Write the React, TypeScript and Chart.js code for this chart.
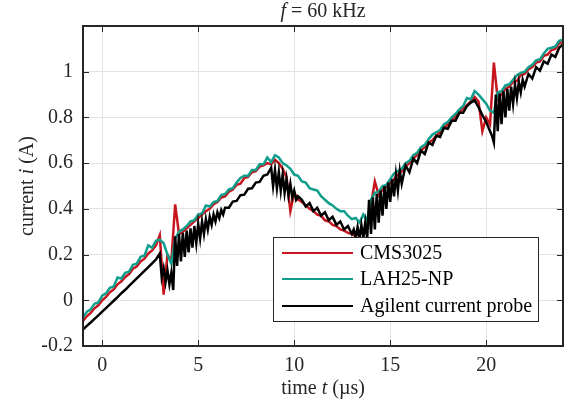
import React, { useEffect, useRef } from "react";
import Chart from "chart.js/auto";

// time axis (µs) for the two Hall-sensor traces
const timeUs = [
  -1.0, -0.8, -0.6, -0.4, -0.2, 0.0, 0.2, 0.4, 0.6, 0.8,
  1.0, 1.2, 1.4, 1.6, 1.8, 2.0, 2.2, 2.4, 2.6, 2.8,
  3.0, 3.2, 3.4, 3.6, 3.8, 4.0, 4.2, 4.4, 4.6, 4.8,
  5.0, 5.2, 5.4, 5.6, 5.8, 6.0, 6.2, 6.4, 6.6, 6.8,
  7.0, 7.2, 7.4, 7.6, 7.8, 8.0, 8.2, 8.4, 8.6, 8.8,
  9.0, 9.2, 9.4, 9.6, 9.8, 10.0, 10.2, 10.4, 10.6, 10.8,
  11.0, 11.2, 11.4, 11.6, 11.8, 12.0, 12.2, 12.4, 12.6, 12.8,
  13.0, 13.2, 13.4, 13.6, 13.8, 14.0, 14.2, 14.4, 14.6, 14.8,
  15.0, 15.2, 15.4, 15.6, 15.8, 16.0, 16.2, 16.4, 16.6, 16.8,
  17.0, 17.2, 17.4, 17.6, 17.8, 18.0, 18.2, 18.4, 18.6, 18.8,
  19.0, 19.2, 19.4, 19.6, 19.8, 20.0, 20.2, 20.4, 20.6, 20.8,
  21.0, 21.2, 21.4, 21.6, 21.8, 22.0, 22.2, 22.4, 22.6, 22.8,
  23.0, 23.2, 23.4, 23.6, 23.8, 24.0,
];

// CMS3025 current (A)
const cms3025 = [
  -0.09, -0.07, -0.055, -0.035, -0.022, 0.0, 0.015, 0.035, 0.048, 0.07,
  0.083, 0.102, 0.115, 0.138, 0.148, 0.17, 0.182, 0.205, 0.218, 0.24,
  0.285, 0.025, 0.2, 0.17, 0.42, 0.29, 0.3, 0.315, 0.33, 0.345,
  0.36, 0.375, 0.39, 0.4, 0.42, 0.43, 0.45, 0.455, 0.475, 0.485,
  0.505, 0.51, 0.535, 0.54, 0.56, 0.565, 0.585, 0.59, 0.6, 0.595,
  0.615, 0.6, 0.575, 0.54, 0.39, 0.47, 0.44, 0.43, 0.415, 0.4,
  0.39, 0.375, 0.37, 0.35, 0.345, 0.33, 0.325, 0.31, 0.305, 0.295,
  0.29, 0.28, 0.3, 0.29, 0.31, 0.42, 0.52, 0.46, 0.485, 0.495,
  0.515, 0.53, 0.55, 0.565, 0.585, 0.6, 0.62, 0.635, 0.655, 0.67,
  0.69, 0.7, 0.72, 0.735, 0.755, 0.77, 0.785, 0.805, 0.82, 0.84,
  0.855, 0.87, 0.89, 0.87, 0.74, 0.8, 0.77, 1.04, 0.88, 0.9,
  0.925, 0.935, 0.955, 0.96, 0.985, 0.99, 1.01, 1.02, 1.04, 1.045,
  1.07, 1.075, 1.095, 1.1, 1.125, 1.13,
];

// LAH25-NP current (A)
const lah25np = [
  -0.075, -0.05, -0.04, -0.015, -0.01, 0.02, 0.03, 0.055, 0.06, 0.1,
  0.095, 0.12, 0.125, 0.155, 0.16, 0.19, 0.195, 0.24, 0.23, 0.26,
  0.265, 0.25, 0.2, 0.16, 0.27, 0.3, 0.31, 0.325, 0.345, 0.35,
  0.375, 0.38, 0.415, 0.41, 0.43, 0.435, 0.46, 0.465, 0.485, 0.49,
  0.515, 0.535, 0.545, 0.545, 0.57, 0.57, 0.595, 0.595, 0.625, 0.605,
  0.635, 0.625, 0.6, 0.59, 0.575, 0.55, 0.545, 0.52, 0.515, 0.49,
  0.485, 0.48, 0.455, 0.44, 0.425, 0.415, 0.4, 0.39, 0.39, 0.37,
  0.355, 0.36, 0.34, 0.375, 0.35, 0.44, 0.47, 0.475, 0.5, 0.505,
  0.53, 0.555, 0.565, 0.575, 0.6, 0.61, 0.635, 0.645, 0.67, 0.68,
  0.705, 0.725, 0.735, 0.745, 0.77, 0.78, 0.8, 0.815, 0.835, 0.85,
  0.885, 0.88, 0.915, 0.9, 0.88, 0.86, 0.83, 0.82, 0.91, 0.915,
  0.94, 0.945, 0.965, 0.985, 0.995, 1.0, 1.02, 1.03, 1.05, 1.055,
  1.08, 1.1, 1.105, 1.11, 1.135, 1.14,
];

// time axis (µs) for the Agilent probe trace (denser where it rings)
const agilentTime = [
  -1.0, -0.8, -0.6, -0.4, -0.2, 0.0, 0.2, 0.4, 0.6, 0.8, 1.0, 1.2, 1.4, 1.6, 1.8, 2.0, 2.2, 2.4, 2.6, 2.8, 3.0,
  3.1, 3.2, 3.3, 3.4, 3.5, 3.6, 3.7, 3.8, 3.9, 4.0, 4.1, 4.2, 4.3, 4.4, 4.5, 4.6, 4.7, 4.8, 4.9,
  5.0, 5.1, 5.2, 5.3, 5.4, 5.5, 5.6, 5.7, 5.8, 5.9, 6.0, 6.1, 6.2, 6.3, 6.4,
  6.6, 6.8, 7.0, 7.2, 7.4, 7.6, 7.8, 8.0, 8.2, 8.4, 8.6, 8.8,
  8.9, 9.0, 9.1, 9.2, 9.3, 9.4, 9.5, 9.6, 9.7, 9.8, 9.9, 10.0, 10.1, 10.2,
  10.4, 10.6, 10.8, 11.0, 11.2, 11.4, 11.6, 11.8, 12.0, 12.2, 12.4, 12.6, 12.8, 13.0,
  13.1, 13.2, 13.3, 13.4, 13.5, 13.6, 13.7, 13.8, 13.9, 14.0, 14.1, 14.2, 14.3, 14.4, 14.5,
  14.6, 14.7, 14.8, 14.9, 15.0, 15.1, 15.2, 15.3, 15.4, 15.5,
  15.6, 15.8, 16.0, 16.2, 16.4, 16.6, 16.8, 17.0, 17.2, 17.4, 17.6, 17.8, 18.0, 18.2, 18.4, 18.6, 18.8, 19.0, 19.2, 19.4, 19.6, 19.8, 20.0,
  20.1, 20.2, 20.3, 20.4, 20.5, 20.6, 20.7, 20.8, 20.9, 21.0, 21.1, 21.2, 21.3, 21.4, 21.5, 21.6, 21.7, 21.8, 21.9, 22.0,
  22.2, 22.4, 22.6, 22.8, 23.0, 23.2, 23.4, 23.6, 23.8, 24.0,
];

// Agilent current probe (A)
const agilent = [
  -0.128, -0.112, -0.097, -0.081, -0.066, -0.05, -0.034, -0.018, -0.002, 0.014, 0.031, 0.046, 0.063, 0.079, 0.096, 0.112, 0.129, 0.145, 0.162, 0.179, 0.205,
  0.10, 0.14, 0.08, 0.13, 0.07, 0.12, 0.045, 0.28, 0.15, 0.29, 0.17, 0.295, 0.19, 0.305, 0.21, 0.315, 0.23, 0.325, 0.25,
  0.335, 0.27, 0.345, 0.29, 0.355, 0.31, 0.365, 0.33, 0.375, 0.345, 0.385, 0.36, 0.395, 0.375, 0.405,
  0.405, 0.432, 0.435, 0.46, 0.462, 0.488, 0.49, 0.515, 0.518, 0.545, 0.55, 0.58,
  0.50, 0.57, 0.49, 0.56, 0.48, 0.55, 0.47, 0.53, 0.46, 0.51, 0.45, 0.48, 0.44, 0.455,
  0.44, 0.41, 0.425, 0.39, 0.405, 0.37, 0.385, 0.35, 0.365, 0.33, 0.345, 0.31, 0.325, 0.29,
  0.31, 0.275, 0.32, 0.27, 0.33, 0.275, 0.34, 0.27, 0.44, 0.29, 0.45, 0.31, 0.465, 0.34, 0.48,
  0.37, 0.50, 0.40, 0.515, 0.43, 0.53, 0.455, 0.55, 0.48, 0.565,
  0.51, 0.59, 0.56, 0.62, 0.60, 0.655, 0.64, 0.69, 0.68, 0.72, 0.715, 0.755, 0.75, 0.785, 0.785, 0.82, 0.82, 0.85, 0.865, 0.875, 0.845, 0.81, 0.78,
  0.76, 0.74, 0.72, 0.69, 0.90, 0.74, 0.905, 0.77, 0.915, 0.80, 0.925, 0.83, 0.935, 0.86, 0.945, 0.885, 0.955, 0.91, 0.965, 0.935,
  0.99, 0.97, 1.02, 1.005, 1.045, 1.035, 1.075, 1.065, 1.105, 1.12,
];

const xTicks = [0, 5, 10, 15, 20];
const yTicks = [-0.2, 0, 0.2, 0.4, 0.6, 0.8, 1];
const seriesNames = ["CMS3025", "LAH25-NP", "Agilent current probe"];
const seriesColors = ["#c8161e", "#0f9e8c", "#000000"];

const FONT = "'Liberation Serif', 'Times New Roman', serif";
const TXT = "#262626";

type Part = [string, boolean];

function drawMixed(ctx: CanvasRenderingContext2D, parts: Part[], cx: number, y: number, size: number) {
  let total = 0;
  const widths: number[] = [];
  for (const [s, it] of parts) {
    ctx.font = `${it ? "italic " : ""}${size}px ${FONT}`;
    const w = ctx.measureText(s).width;
    widths.push(w);
    total += w;
  }
  let x = cx - total / 2;
  ctx.textAlign = "left";
  ctx.textBaseline = "alphabetic";
  parts.forEach(([s, it], i) => {
    ctx.font = `${it ? "italic " : ""}${size}px ${FONT}`;
    ctx.fillText(s, x, y);
    x += widths[i];
  });
}

const decor = {
  id: "decor",
  afterDraw(chart: any) {
    const { ctx, chartArea: a, scales } = chart;
    ctx.save();
    ctx.strokeStyle = TXT;
    ctx.lineWidth = 1;
    const seg = (x1: number, y1: number, x2: number, y2: number) => {
      ctx.beginPath();
      ctx.moveTo(x1, y1);
      ctx.lineTo(x2, y2);
      ctx.stroke();
    };
    for (const v of xTicks) {
      const x = Math.round(scales.x.getPixelForValue(v)) + 0.5;
      seg(x, a.bottom, x, a.bottom - 6);
      seg(x, a.top, x, a.top + 6);
    }
    for (const v of yTicks) {
      const y = Math.round(scales.y.getPixelForValue(v)) + 0.5;
      seg(a.left, y, a.left + 6, y);
      seg(a.right, y, a.right - 6, y);
    }
    ctx.lineWidth = 2;
    ctx.strokeRect(a.left, a.top, a.right - a.left, a.bottom - a.top);

    ctx.fillStyle = TXT;
    const cx = (a.left + a.right) / 2;
    drawMixed(ctx, [["f", true], [" = 60 kHz", false]], cx, 17, 20);
    drawMixed(ctx, [["time ", false], ["t", true], [" (\u00b5s)", false]], cx, 394, 20);
    ctx.save();
    ctx.translate(33, (a.top + a.bottom) / 2);
    ctx.rotate(-Math.PI / 2);
    drawMixed(ctx, [["current ", false], ["i", true], [" (A)", false]], 0, 0, 20);
    ctx.restore();

    // legend
    const lx = 273.5, ly = 237.5, lw = 265, lh = 84;
    ctx.fillStyle = "#ffffff";
    ctx.fillRect(lx, ly, lw, lh);
    ctx.strokeStyle = TXT;
    ctx.lineWidth = 1;
    ctx.strokeRect(lx, ly, lw, lh);
    const rows = [253, 279, 306];
    seriesNames.forEach((name, i) => {
      ctx.strokeStyle = seriesColors[i];
      ctx.lineWidth = 2;
      seg(282, rows[i], 353, rows[i]);
      ctx.fillStyle = "#000";
      ctx.font = `20px ${FONT}`;
      ctx.textAlign = "left";
      ctx.textBaseline = "middle";
      ctx.fillText(name, 360, rows[i] + 1);
    });
    ctx.restore();
  },
};

export default function App() {
  const ref = useRef<HTMLCanvasElement | null>(null);
  useEffect(() => {
    if (!ref.current) return;
    Chart.defaults.font.family = FONT;
    const mk = (ts: number[], vals: number[]) => ts.map((t, i) => ({ x: t, y: vals[i] }));
    const chart = new Chart(ref.current, {
      type: "line",
      data: {
        datasets: [
          { label: seriesNames[2], data: mk(agilentTime, agilent), borderColor: seriesColors[2], order: 0 },
          { label: seriesNames[1], data: mk(timeUs, lah25np), borderColor: seriesColors[1], order: 1 },
          { label: seriesNames[0], data: mk(timeUs, cms3025), borderColor: seriesColors[0], order: 2 },
        ],
      },
      options: {
        responsive: false,
        animation: false,
        layout: { padding: { top: 26, right: 6, left: 0, bottom: 0 } },
        plugins: { legend: { display: false }, title: { display: false }, tooltip: { enabled: false } },
        elements: { point: { radius: 0 }, line: { tension: 0, borderWidth: 2.5 } },
        scales: {
          x: {
            type: "linear",
            min: -1,
            max: 24,
            afterBuildTicks: (s: any) => { s.ticks = xTicks.map((v) => ({ value: v })); },
            afterFit: (s: any) => { s.height = 69; },
            grid: { color: "#e2e2e2", drawTicks: false },
            border: { display: false },
            ticks: { padding: 8, color: TXT, font: { family: FONT, size: 20 }, callback: (v: any) => String(v) },
          },
          y: {
            type: "linear",
            min: -0.2,
            max: 1.2,
            afterBuildTicks: (s: any) => { s.ticks = yTicks.map((v) => ({ value: v })); },
            afterFit: (s: any) => { s.width = 83; },
            grid: { color: "#e2e2e2", drawTicks: false },
            border: { display: false },
            ticks: { padding: 10, color: TXT, font: { family: FONT, size: 20 }, callback: (v: any) => String(Math.round(Number(v) * 10) / 10) },
          },
        },
      },
      plugins: [decor],
    } as any);
    return () => chart.destroy();
  }, []);
  return (
    <div style={{ position: "fixed", left: 0, top: 0, width: 569, height: 415, background: "#fff" }}>
      <canvas ref={ref} width={569} height={415} style={{ display: "block" }} />
    </div>
  );
}
